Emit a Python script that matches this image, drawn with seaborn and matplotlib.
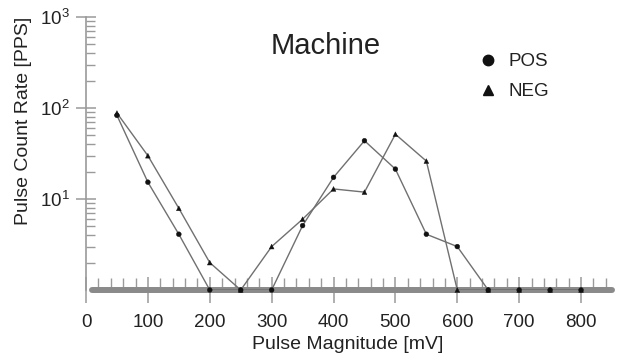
import matplotlib
matplotlib.use("Agg")
import matplotlib.pyplot as plt
import seaborn as sns
import pandas as pd
import numpy as np
from matplotlib.lines import Line2D
from matplotlib.ticker import MultipleLocator, LogLocator, FixedLocator, NullFormatter

# ---- data (zero counts are drawn on the 10^0 baseline) ----
magnitude_mv = [50, 100, 150, 200, 250, 300, 350, 400, 450, 500, 550, 600, 650, 700, 750, 800]
pos_rate = [83, 15.3, 4.1, 1, 1, 1, 5.1, 17.3, 43.7, 21.3, 4.1, 3.0, 1, 1, 1, 1]
neg_rate = [88, 29.9, 7.9, 2.0, 1, 3.0, 6.0, 12.9, 11.9, 51.5, 26.1, 1, 1, 1, 1, 1]
series_names = ["POS", "NEG"]
x_ticks = [0, 100, 200, 300, 400, 500, 600, 700, 800]
y_ticks = [10, 100, 1000]
y_tick_labels = [r"$10^1$", r"$10^2$", r"$10^3$"]
title_text = "Machine"

df = pd.DataFrame({
    "mv": magnitude_mv * 2,
    "rate": pos_rate + neg_rate,
    "series": [series_names[0]] * len(pos_rate) + [series_names[1]] * len(neg_rate),
})

sns.set_theme(style="white")
plt.rcParams["font.family"] = ["Liberation Sans", "DejaVu Sans"]
plt.rcParams["mathtext.fontset"] = "custom"
plt.rcParams["mathtext.rm"] = "Liberation Sans"
plt.rcParams["mathtext.it"] = "Liberation Sans"

fig = plt.figure(figsize=(6.17, 3.58), dpi=100)
ax = fig.add_axes([86 / 617, (358 - 290) / 358, 526 / 617, 273 / 358])

ax.set_yscale("log")

# baseline bar
ax.axhline(1, xmin=(92 - 86) / 526, xmax=1.0, color="#8a8a8a", lw=4.3, zorder=1, clip_on=False)

sns.lineplot(data=df, x="mv", y="rate", hue="series", palette=["#707070", "#707070"],
             lw=1.0, legend=False, ax=ax, zorder=2, sort=False)
sns.scatterplot(data=df, x="mv", y="rate", style="series", markers={"POS": "o", "NEG": "^"},
                color="#111111", s=12, edgecolor="#111111", linewidth=0.3, legend=False, ax=ax, zorder=3,
                clip_on=False)

ax.set_xlim(0, 850)
ax.set_ylim(1, 1000)

for s in ["top", "right", "bottom"]:
    ax.spines[s].set_visible(False)
ax.spines["left"].set_color("#9a9a9a")
ax.spines["left"].set_linewidth(1.2)

ax.xaxis.set_major_locator(FixedLocator(x_ticks))
ax.xaxis.set_minor_locator(MultipleLocator(20))
ax.yaxis.set_major_locator(FixedLocator(y_ticks))
ax.set_yticklabels(y_tick_labels)
ax.yaxis.set_minor_locator(LogLocator(base=10, subs=np.arange(2, 10)))
ax.yaxis.set_minor_formatter(NullFormatter())

ax.tick_params(axis="x", which="major", direction="inout", length=19, width=1.1, color="#9a9a9a",
               labelsize=13.5, labelcolor="#222222", pad=8, bottom=True)
ax.tick_params(axis="x", which="minor", direction="in", length=8.5, width=1.0, color="#9a9a9a", bottom=True)
ax.tick_params(axis="y", which="major", direction="inout", length=14, width=1.1, color="#9a9a9a",
               labelsize=13.5, labelcolor="#222222", pad=5, left=True)
ax.tick_params(axis="y", which="minor", direction="in", length=6.5, width=1.0, color="#9a9a9a", left=True)

ax.set_xlabel("Pulse Magnitude [mV]", fontsize=14, color="#222222")
ax.set_ylabel("Pulse Count Rate [PPS]", fontsize=14, color="#222222")
ax.xaxis.set_label_coords(0.498, -0.17)
ax.yaxis.set_label_coords(-0.103, 0.62)

ax.text(0.456, 0.895, title_text, transform=ax.transAxes, ha="center", va="center",
        fontsize=21, color="#222222")

handles = [
    Line2D([], [], linestyle="none", marker="o", markersize=7.5, color="#111111"),
    Line2D([], [], linestyle="none", marker="^", markersize=7.5, color="#111111"),
]
leg = ax.legend(handles, series_names, frameon=False, loc="upper left",
                bbox_to_anchor=((479 - 86) / 526, (290 - 53) / 273), fontsize=13.5,
                handlelength=1.0, handletextpad=0.6, labelspacing=0.7, borderpad=0, borderaxespad=0)
for t in leg.get_texts():
    t.set_color("#222222")

fig.savefig("out.png", dpi=100)
